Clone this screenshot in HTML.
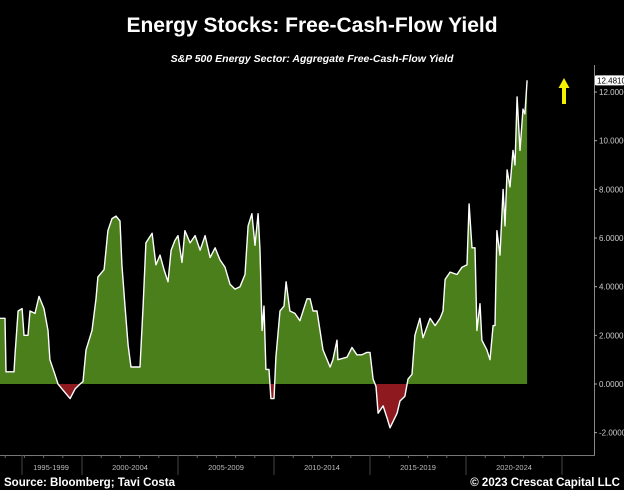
<!DOCTYPE html>
<html><head><meta charset="utf-8"><style>
html,body{margin:0;padding:0;background:#000;}
svg{display:block;}
text{font-family:"Liberation Sans",sans-serif;}
</style></head><body>
<svg id="chart" width="624" height="490" viewBox="0 0 624 490">
<rect width="624" height="490" fill="#000"/>
<text x="312" y="32" text-anchor="middle" fill="#fff" font-size="21" font-weight="bold">Energy Stocks: Free-Cash-Flow Yield</text>
<text x="312" y="62" text-anchor="middle" fill="#fff" font-size="10.5" font-weight="bold" font-style="italic">S&amp;P 500 Energy Sector: Aggregate Free-Cash-Flow Yield</text>
<defs>
<clipPath id="clipPos"><rect x="0" y="0" width="624" height="384"/></clipPath>
<clipPath id="clipNeg"><rect x="0" y="384" width="624" height="106"/></clipPath>
</defs>
<g id="plot"></g>
<line x1="594.5" y1="65" x2="594.5" y2="455" stroke="#888" stroke-width="1"/>
<line x1="0" y1="455.5" x2="595" y2="455.5" stroke="#777" stroke-width="1"/>
<g id="yaxis"></g>
<g id="xaxis"></g>
<polygon points="564,78 569.5,88 566,88 566,104 562,104 562,88 558.5,88" fill="#f5f000"/>
<text x="4" y="486" fill="#fff" font-size="11.5" font-weight="bold">Source: Bloomberg; Tavi Costa</text>
<text x="620" y="486" text-anchor="end" fill="#fff" font-size="11.5" font-weight="bold">© 2023 Crescat Capital LLC</text>
</svg>
<script>
const dates = [1995.73,1995.99,1996.04,1996.46,1996.51,1996.67,1996.88,1996.98,1997.19,1997.29,1997.55,1997.76,1998.02,1998.23,1998.33,1998.59,1998.75,1998.96,1999.38,1999.64,1999.90,
2000.05,2000.21,2000.52,2000.73,2000.83,2001.15,2001.35,2001.56,2001.77,2001.98,2002.08,2002.24,2002.40,2002.55,2003.02,2003.18,2003.33,2003.65,2003.85,2004.06,2004.27,2004.48,2004.64,2004.84,
2005.00,2005.21,2005.36,2005.63,2005.89,2006.15,2006.41,2006.67,2006.93,2007.19,2007.45,2007.71,2007.97,2008.23,2008.49,2008.65,2008.85,2009.01,2009.17,2009.27,2009.38,2009.48,2009.58,2009.74,2009.84,
2010.00,2010.10,2010.31,2010.52,2010.63,2010.83,2011.09,2011.35,2011.72,2011.88,2012.03,2012.24,2012.55,2012.92,2013.07,2013.28,2013.33,2013.80,2014.06,2014.32,2014.58,2014.84,
2015.00,2015.16,2015.31,2015.42,2015.68,2015.89,2016.04,2016.41,2016.56,2016.82,2016.98,2017.19,2017.34,2017.60,2017.76,2018.13,2018.39,2018.65,2018.80,2018.91,2019.17,2019.53,2019.79,
2020.05,2020.16,2020.31,2020.47,2020.57,2020.73,2020.83,2021.09,2021.25,2021.41,2021.51,2021.61,2021.77,2021.93,2022.03,2022.14,2022.29,2022.45,2022.55,2022.66,2022.81,2022.97,2023.07,2023.18];
const yieldValues = [2.7,2.7,0.5,0.5,1.2,3.0,3.1,2.0,2.0,3.0,2.9,3.6,3.1,2.2,1.0,0.4,0,-0.2,-0.6,-0.2,0,
0.1,1.4,2.2,3.5,4.4,4.7,6.3,6.8,6.9,6.7,4.9,3.2,1.6,0.7,0.7,3.2,5.8,6.2,4.9,5.3,4.7,4.2,5.5,5.9,
6.1,5.0,6.3,5.8,6.1,5.5,6.1,5.2,5.6,5.1,4.8,4.1,3.9,4.0,4.5,6.5,7.0,5.7,7.0,5.5,2.2,3.2,0.6,0.6,-0.6,
-0.6,1.1,3.0,3.2,4.2,3.0,2.9,2.6,3.5,3.5,3.0,3.0,1.4,0.7,1.0,1.8,1.0,1.1,1.5,1.2,1.2,1.3,
1.3,0.2,-0.1,-1.2,-0.9,-1.4,-1.8,-1.2,-0.7,-0.5,0.2,0.4,2.0,2.7,1.9,2.7,2.4,2.7,3.0,4.3,4.6,4.5,4.8,
4.9,7.4,5.6,5.6,2.2,3.3,1.8,1.4,1.0,2.4,2.4,6.3,5.3,8.0,6.5,8.8,8.1,9.6,9.0,11.8,9.6,11.3,11.1,12.481];
const yTicks = [-2,0,2,4,6,8,10,12];
const periodLabels = ["1995-1999","2000-2004","2005-2009","2010-2014","2015-2019","2020-2024"];
const periodStarts = [1995,2000,2005,2010,2015,2020];
const lastValue = 12.481;

const NS="http://www.w3.org/2000/svg";
function xs(yr){return 82+(yr-2000)*19.2;}
function ys(v){return 384-v*24.33;}
function mk(tag,attrs,parent){const e=document.createElementNS(NS,tag);for(const k in attrs)e.setAttribute(k,attrs[k]);parent.appendChild(e);return e;}
const plot=document.getElementById('plot');
let line='';
dates.forEach((d,i)=>{line+=(i?'L':'M')+xs(dates[i]).toFixed(1)+','+ys(yieldValues[i]).toFixed(1);});
const area=line+'L'+xs(dates[dates.length-1]).toFixed(1)+','+ys(0)+'L'+xs(dates[0]).toFixed(1)+','+ys(0)+'Z';
const pos=mk('path',{d:area,fill:'#4a7f1c','clip-path':'url(#clipPos)'},plot);


const neg=mk('path',{d:area,fill:'#8e1a1f','clip-path':'url(#clipNeg)'},plot);


const ln=mk('path',{d:line,fill:'none',stroke:'#fff','stroke-width':1.4,'stroke-linejoin':'round'},plot);



const ya=document.getElementById('yaxis');
yTicks.forEach(t=>{
  const tk=mk('line',{x1:594,x2:597,y1:ys(t),y2:ys(t),stroke:'#aaa'},ya);
  
  
  const tx=mk('text',{x:599,y:ys(t)+3,fill:'#ccc','font-size':8},ya);
  tx.textContent=t.toFixed(4);
  
  
});
const lb=mk('rect',{x:595,y:ys(lastValue)-5,width:29,height:10,fill:'#fff',rx:1},ya);


const lt=mk('text',{x:597,y:ys(lastValue)+3,fill:'#000','font-size':8},ya);
lt.textContent=lastValue.toFixed(4);



const xa=document.getElementById('xaxis');
for(let yr=1995;yr<=2025;yr++){
  const t=mk('line',{x1:xs(yr),x2:xs(yr),y1:455,y2:458,stroke:'#666'},xa);
  
  
}
const divs=[22].concat(periodStarts.slice(1).map(xs)).concat([xs(2025)]);
divs.forEach(x=>{
  const d=mk('line',{x1:x,x2:x,y1:455,y2:475,stroke:'#444'},xa);
  
  
});
periodLabels.forEach((l,i)=>{
  let cx=xs(periodStarts[i]+2.5);
  if(i===0) cx=51;
  const t=mk('text',{x:cx,y:470,fill:'#bbb','font-size':7.5,'text-anchor':'middle'},xa);
  t.textContent=l;
  
  
});
</script>
</body></html>
